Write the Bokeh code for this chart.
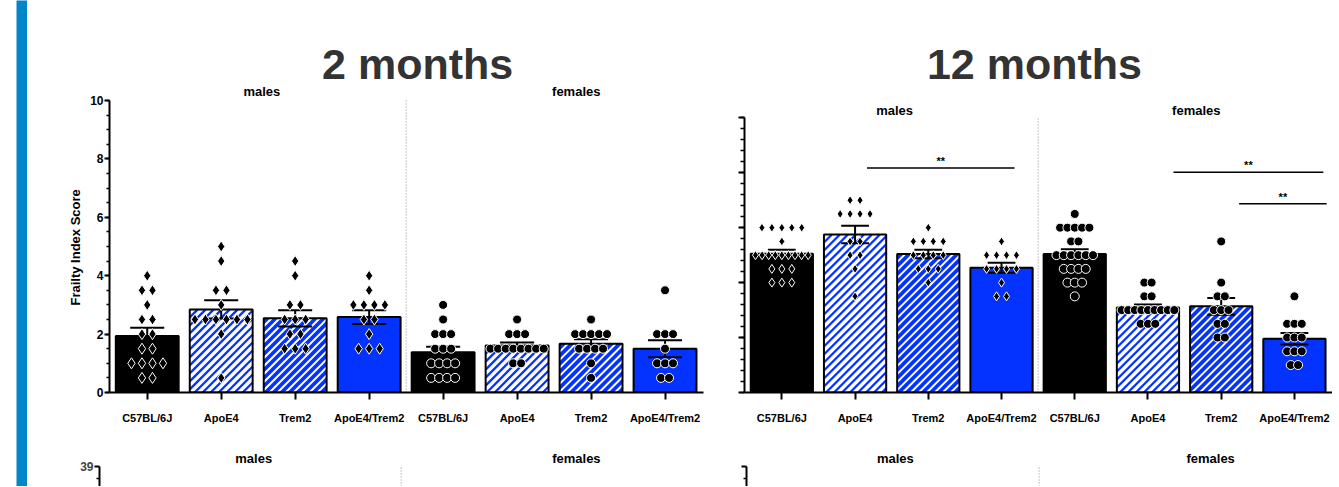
import numpy as np
from bokeh.plotting import figure
from bokeh.models import Range1d, FixedTicker, Spacer, Title
from bokeh.layouts import row, column
from bokeh.embed import file_html
from bokeh.resources import INLINE
from bokeh.core.properties import value

# ---------------- data ----------------
GENOTYPES = ["C57BL/6J", "ApoE4", "Trem2", "ApoE4/Trem2"]
SEXES = ["males", "females"]
TITLES = ["2 months", "12 months"]
Y_LABEL = "Frailty Index Score"
Y_TICKS = [0, 2, 4, 6, 8, 10]
LOWER_TICK = 39

# 2 months, individual Frailty Index Scores (males: diamonds, females: circles)
m2_c57_m = [4.0, 3.5, 3.5, 3.0, 2.5, 2.5, 2.0, 2.0, 1.5, 1.5, 1.0, 1.0, 1.0, 1.0, 0.5, 0.5]
m2_apoe4_m = [5.0, 4.5, 3.5, 3.5, 3.0, 2.5, 2.5, 2.5, 2.5, 2.5, 2.5, 2.0, 0.5]
m2_trem2_m = [4.5, 4.0, 3.0, 3.0, 2.5, 2.5, 2.5, 2.0, 2.0, 1.5, 1.5, 1.5]
m2_dbl_m = [4.0, 3.5, 3.0, 3.0, 3.0, 3.0, 2.5, 2.5, 2.0, 1.5, 1.5, 1.5]
m2_c57_f = [3.0, 2.5, 2.0, 2.0, 2.0, 1.5, 1.5, 1.5, 1.0, 1.0, 1.0, 1.0, 0.5, 0.5, 0.5, 0.5]
m2_apoe4_f = [2.5, 2.0, 2.0, 2.0, 1.5, 1.5, 1.5, 1.5, 1.5, 1.5, 1.5, 1.5, 1.0, 1.0]
m2_trem2_f = [2.5, 2.0, 2.0, 2.0, 2.0, 2.0, 1.5, 1.5, 1.5, 1.5, 1.0, 0.5]
m2_dbl_f = [3.5, 2.0, 2.0, 2.0, 1.5, 1.0, 1.0, 1.0, 0.5, 0.5]

# 12 months
m12_c57_m = [6.0, 6.0, 6.0, 6.0, 6.0, 5.5, 5.0, 5.0, 5.0, 5.0, 5.0, 5.0, 5.0, 5.0, 5.0,
             4.5, 4.5, 4.5, 4.0, 4.0, 4.0]
m12_apoe4_m = [7.0, 7.0, 6.5, 6.5, 6.5, 6.5, 5.5, 5.5, 5.0, 5.0, 4.5, 3.5]
m12_trem2_m = [6.0, 5.5, 5.5, 5.5, 5.5, 5.0, 5.0, 5.0, 5.0, 4.5, 4.5, 4.5, 4.0]
m12_dbl_m = [5.5, 5.0, 5.0, 5.0, 5.0, 4.5, 4.5, 4.5, 4.5, 4.0, 3.5, 3.5]
m12_c57_f = [6.5, 6.0, 6.0, 6.0, 6.0, 6.0, 5.5, 5.5, 5.0, 5.0, 5.0, 5.0, 5.0, 5.0,
             4.5, 4.5, 4.5, 4.5, 4.0, 4.0, 4.0, 3.5]
m12_apoe4_f = [4.0, 4.0, 3.5, 3.5, 3.0, 3.0, 3.0, 3.0, 3.0, 3.0, 3.0, 3.0, 3.0, 2.5, 2.5, 2.5]
m12_trem2_f = [5.5, 4.0, 3.5, 3.5, 3.0, 3.0, 3.0, 2.5, 2.5, 2.0, 2.0]
m12_dbl_f = [3.5, 2.5, 2.5, 2.5, 2.0, 2.0, 2.0, 1.5, 1.5, 1.5, 1.0, 1.0]

# significance comparisons at 12 months (x from, x to, bar height, label)
sig12_x0 = [1.164, 5.348, 6.245]
sig12_x1 = [3.178, 7.395, 7.44]
sig12_y = [8.17, 8.02, 6.87]
sig12_txt = ["**", "**", "**"]

# ---------------- styling ----------------
FONT = "Liberation Sans"
BLUE = "#0433FF"
# fill, stripe colour, stripe width (px)
STYLES = [
    dict(fill="black", stripe=None, sw=0),
    dict(fill="white", stripe=BLUE, sw=2.3),
    dict(fill=BLUE, stripe="white", sw=2.0),
    dict(fill=BLUE, stripe=None, sw=0),
]
STRIPE_PERIOD = 8.0   # px, horizontal
FRAME_H = 392
TOP_H = 440
LOW_H = 46
X_RANGE = (-0.51, 7.52)
BAR_W = 0.85


def spread(vals, step, maxw):
    vals = np.asarray(vals, float)
    offs = np.zeros(len(vals))
    for v in np.unique(vals):
        idx = np.where(vals == v)[0]
        k = len(idx)
        if k > 1:
            s = min(step, maxw / (k - 1))
            offs[idx] = (np.arange(k) - (k - 1) / 2.0) * s
    return offs


def stripes(xl, xr, top, sx, sy):
    """45-degree '/' stripes (in screen space) clipped to a bar rectangle."""
    k = sx / sy                 # data-y per data-x for a 45deg screen line
    step = STRIPE_PERIOD / sx
    x0s, y0s, x1s, y1s = [], [], [], []
    c = xl - top / k
    while c < xr:
        a = max(xl, c)
        b = min(xr, c + top / k)
        if b > a:
            x0s.append(a); y0s.append((a - c) * k)
            x1s.append(b); y1s.append((b - c) * k)
        c += step
    return x0s, y0s, x1s, y1s


def panel(title, groups, width, left, right, ppu, cap, dsize, csize, dstep, cstep,
          title_x, group_x, group_y, ylabels, minor, sig=None):
    ytop = FRAME_H / ppu
    frame_w = width - left - right
    sx = frame_w / (X_RANGE[1] - X_RANGE[0])
    p = figure(width=width, height=TOP_H, x_range=Range1d(*X_RANGE),
               y_range=Range1d(0, ytop), output_backend="svg", toolbar_location=None,
               min_border_left=left, min_border_right=right, min_border_top=0,
               min_border_bottom=TOP_H - FRAME_H)
    p.grid.grid_line_color = None
    p.outline_line_color = None
    p.background_fill_color = "white"

    xs = np.arange(len(groups), dtype=float)
    means = np.array([np.mean(g) for g in groups])
    sems = np.array([np.std(g, ddof=1) / np.sqrt(len(g)) for g in groups])

    # separator between sexes
    p.segment(x0=[3.5], y0=[0], x1=[3.5], y1=[10], line_color="#8c8c8c",
              line_width=1, line_dash="1 2")

    # bars: fill, stripes, outline
    for gi, st in enumerate(STYLES):
        sel = [i for i in range(len(groups)) if i % 4 == gi]
        p.vbar(x=xs[sel], top=means[sel], bottom=0, width=BAR_W,
               fill_color=st["fill"], line_color=None)
        if st["stripe"]:
            X0, Y0, X1, Y1 = [], [], [], []
            for i in sel:
                a, b, c, d = stripes(xs[i] - BAR_W / 2, xs[i] + BAR_W / 2, means[i], sx, ppu)
                X0 += a; Y0 += b; X1 += c; Y1 += d
            p.segment(x0=X0, y0=Y0, x1=X1, y1=Y1, line_color=st["stripe"],
                      line_width=st["sw"])
    p.vbar(x=xs, top=means, bottom=0, width=BAR_W, fill_color=None,
           line_color="black", line_width=2)

    # error bars (SEM)
    p.segment(x0=xs, y0=means - sems, x1=xs, y1=means + sems, line_color="black", line_width=2)
    p.segment(x0=xs - cap / 2, y0=means + sems, x1=xs + cap / 2, y1=means + sems,
              line_color="black", line_width=2)
    p.segment(x0=xs - cap / 2, y0=means - sems, x1=xs + cap / 2, y1=means - sems,
              line_color="black", line_width=2)

    # individual points
    for i, g in enumerate(groups):
        male = i < 4
        offs = spread(g, dstep if male else cstep, 0.72)
        p.scatter(x=i + offs, y=g, marker="diamond" if male else "circle",
                  size=dsize if male else csize, fill_color="black",
                  line_color="white", line_width=1)

    if sig is not None:
        x0, x1, yy, tt = sig
        x0 = np.array(x0); x1 = np.array(x1); yy = np.array(yy)
        p.segment(x0=x0, y0=yy, x1=x1, y1=yy, line_color="black", line_width=1.5)
        p.text(x=(x0 + x1) / 2, y=yy + 7.0 / ppu, text=tt, text_align="center",
               text_baseline="middle", text_font=value(FONT), text_font_style="bold",
               text_font_size="11px", text_color="black")

    # group labels and panel title
    p.text(x=group_x, y=[group_y, group_y], text=SEXES, text_align="center",
           text_baseline="middle", text_font=value(FONT), text_font_style="bold",
           text_font_size="13px", text_color="black")
    p.text(x=[title_x], y=[(FRAME_H - 63) / ppu], text=[title], text_align="center",
           text_baseline="alphabetic", text_font=value(FONT), text_font_style="bold",
           text_font_size="43px", text_color="#333333")

    # axes
    xa = p.xaxis[0]
    xa.ticker = FixedTicker(ticks=list(range(len(groups))))
    xa.major_label_overrides = {i: GENOTYPES[i % 4] for i in range(len(groups))}
    xa.axis_line_width = 2
    xa.major_tick_line_width = 2
    xa.major_tick_out = 7
    xa.major_tick_in = 0
    xa.minor_tick_line_color = None
    xa.major_label_standoff = 12
    xa.major_label_text_font = FONT
    xa.major_label_text_font_style = "bold"
    xa.major_label_text_font_size = "11px"
    xa.major_label_text_color = "black"

    ya = p.yaxis[0]
    ya.ticker = FixedTicker(ticks=Y_TICKS, minor_ticks=list(np.arange(0, 10.001, minor)))
    ya.bounds = (0, 10)
    ya.axis_line_width = 2
    ya.major_tick_line_width = 2
    ya.minor_tick_line_width = 1.5
    ya.major_tick_out = 5
    ya.major_tick_in = 0
    ya.minor_tick_out = 3
    ya.minor_tick_in = 0
    ya.major_label_standoff = 1
    ya.major_label_text_font = FONT
    ya.major_label_text_font_style = "bold"
    ya.major_label_text_font_size = "12px"
    ya.major_label_text_color = "black"
    if ylabels:
        p.add_layout(Title(text=Y_LABEL, align="left", offset=87, standoff=9,
                           text_font=FONT, text_font_style="bold", text_font_size="13px",
                           text_color="black"), "left")
    else:
        ya.major_label_overrides = {t: "" for t in Y_TICKS}
        ya.major_tick_out = 6
        ya.minor_tick_out = 4
    return p


def lower_panel(width, left, right, group_x, show_label):
    ppu = 7.8
    above = 26.0
    below = LOW_H - above
    p = figure(width=width, height=LOW_H, x_range=Range1d(*X_RANGE),
               y_range=Range1d(LOWER_TICK - below / ppu, LOWER_TICK + above / ppu),
               x_axis_type=None, output_backend="svg", toolbar_location=None,
               min_border_left=left, min_border_right=right, min_border_top=0,
               min_border_bottom=0)
    p.grid.grid_line_color = None
    p.outline_line_color = None
    p.segment(x0=[3.5], y0=[LOWER_TICK - below / ppu], x1=[3.5], y1=[LOWER_TICK],
              line_color="#8c8c8c", line_width=1, line_dash="1 2")
    p.text(x=group_x, y=[LOWER_TICK + 8 / ppu] * 2, text=SEXES, text_align="center",
           text_baseline="middle", text_font=value(FONT), text_font_style="bold",
           text_font_size="13px", text_color="black")
    ya = p.yaxis[0]
    ya.ticker = FixedTicker(ticks=[LOWER_TICK], minor_ticks=[LOWER_TICK - 1.5])
    ya.bounds = (0, LOWER_TICK)
    ya.axis_line_width = 2
    ya.major_tick_line_width = 2
    ya.minor_tick_line_width = 1.5
    ya.major_tick_out = 5
    ya.major_tick_in = 0
    ya.minor_tick_out = 3
    ya.minor_tick_in = 0
    ya.major_label_standoff = 1
    ya.major_label_text_font = FONT
    ya.major_label_text_font_style = "bold"
    ya.major_label_text_font_size = "12px"
    if not show_label:
        ya.major_label_overrides = {LOWER_TICK: ""}
    return p


groups2 = [m2_c57_m, m2_apoe4_m, m2_trem2_m, m2_dbl_m, m2_c57_f, m2_apoe4_f, m2_trem2_f, m2_dbl_f]
groups12 = [m12_c57_m, m12_apoe4_m, m12_trem2_m, m12_dbl_m,
            m12_c57_f, m12_apoe4_f, m12_trem2_f, m12_dbl_f]

L = panel(TITLES[0], groups2, 693, 82, 17, 29.2, 0.46, 11, 9, 0.142, 0.108,
          3.655, [1.55, 5.8], 10.31, True, 0.5)
R = panel(TITLES[1], groups12, 612, 24, 0, 27.47, 0.38, 9, 9, 0.136, 0.10,
          3.45, [1.54, 5.66], 10.27, False, 0.4,
          sig=(sig12_x0, sig12_x1, sig12_y, sig12_txt))

BL = lower_panel(693, 72, 17, [1.54, 5.83], True)
BR = lower_panel(612, 26, 0, [1.53, 5.85], False)

blue = figure(width=11, height=TOP_H + LOW_H, x_axis_type=None, y_axis_type=None,
              toolbar_location=None, output_backend="svg", min_border=0,
              background_fill_color="#0086C8", border_fill_color="#0086C8",
              outline_line_color=None)

layout = row(Spacer(width=16, height=TOP_H + LOW_H), blue,
             column(row(L, R), row(BL, BR)))

open("out.html", "w").write(file_html(layout, INLINE))
